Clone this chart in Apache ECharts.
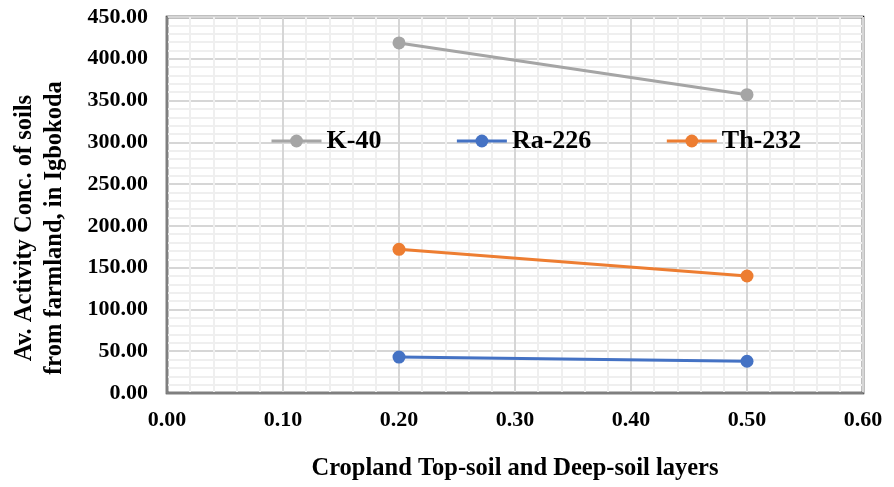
<!DOCTYPE html>
<html>
<head>
<meta charset="utf-8">
<script src="https://cdn.jsdelivr.net/npm/echarts@6/dist/echarts.min.js"></script>
<style>
  html, body { margin: 0; padding: 0; background: #fff; }
  #chart { width: 894px; height: 487px; }
</style>
</head>
<body>
<div id="chart"></div>
<script>
// Soil layer depth positions (x) and average activity concentrations per radionuclide
const depths = [0.2, 0.5];
const k40 = [419, 357];
const ra226 = [43, 38];
const th232 = [172, 140];
const seriesNames = ['K-40', 'Ra-226', 'Th-232'];
const seriesColors = ['#A5A5A5', '#4472C4', '#ED7D31'];

const FONT = '"Liberation Serif", "Times New Roman", serif';

function pairs(ys) {
  return depths.map((x, i) => [x, ys[i]]);
}

function lineSeries(name, ys, color) {
  return {
    name: name,
    type: 'line',
    data: pairs(ys),
    symbol: 'circle',
    symbolSize: 13,
    lineStyle: { color: color, width: 3 },
    itemStyle: { color: color },
    emphasis: { disabled: true },
    z: 5
  };
}

const chart = echarts.init(document.getElementById('chart'), null, { renderer: 'canvas' });

chart.setOption({
  animation: false,
  backgroundColor: '#ffffff',
  grid: {
    left: 167, right: 31, top: 17, bottom: 94,
    outerBoundsMode: 'none',
    containLabel: false,
    show: true,
    borderColor: '#000',
    borderWidth: 2.5,
    backgroundColor: 'transparent'
  },
  legend: {
    data: seriesNames,
    left: 270,
    top: 127,
    padding: 0,
    itemWidth: 50,
    itemHeight: 16,
    itemGap: 74,
    lineStyle: { width: 3 },
    textStyle: {
      fontFamily: FONT,
      fontWeight: 'bold',
      fontSize: 26,
      color: '#000',
      lineHeight: 28
    }
  },
  xAxis: {
    type: 'value',
    min: 0,
    max: 0.6,
    interval: 0.1,
    minorTick: { show: false, splitNumber: 5 },
    minorSplitLine: { show: true, lineStyle: { color: '#efefef', width: 2 } },
    splitLine: { show: true, lineStyle: { color: '#d6d6d6', width: 2 } },
    axisLine: { show: true, onZero: false, lineStyle: { color: '#7f7f7f', width: 2 } },
    axisTick: { show: false },
    axisLabel: {
      margin: 16,
      fontFamily: FONT,
      fontWeight: 'bold',
      fontSize: 22,
      color: '#000',
      formatter: v => v.toFixed(2)
    },
    name: 'Cropland Top-soil and Deep-soil layers',
    nameLocation: 'middle',
    nameGap: 63,
    nameTextStyle: {
      fontFamily: FONT,
      fontWeight: 'bold',
      fontSize: 24.5,
      color: '#000'
    }
  },
  yAxis: {
    type: 'value',
    min: 0,
    max: 450,
    interval: 50,
    minorTick: { show: false, splitNumber: 5 },
    minorSplitLine: { show: true, lineStyle: { color: '#efefef', width: 2 } },
    splitLine: { show: true, lineStyle: { color: '#d6d6d6', width: 2 } },
    axisLine: { show: true, lineStyle: { color: '#7f7f7f', width: 2 } },
    axisTick: { show: false },
    axisLabel: {
      margin: 19,
      fontFamily: FONT,
      fontWeight: 'bold',
      fontSize: 22,
      color: '#000',
      formatter: v => v.toFixed(2)
    },
    name: 'Av. Activity Conc. of soils\nfrom farmland, in Igbokoda',
    nameLocation: 'middle',
    nameGap: 97,
    nameTextStyle: {
      fontFamily: FONT,
      fontWeight: 'bold',
      fontSize: 24.5,
      lineHeight: 30,
      color: '#000',
      padding: [0, 46, 0, 0]
    }
  },
  series: [
    lineSeries(seriesNames[0], k40, seriesColors[0]),
    lineSeries(seriesNames[1], ra226, seriesColors[1]),
    lineSeries(seriesNames[2], th232, seriesColors[2])
  ]
});
</script>
</body>
</html>
